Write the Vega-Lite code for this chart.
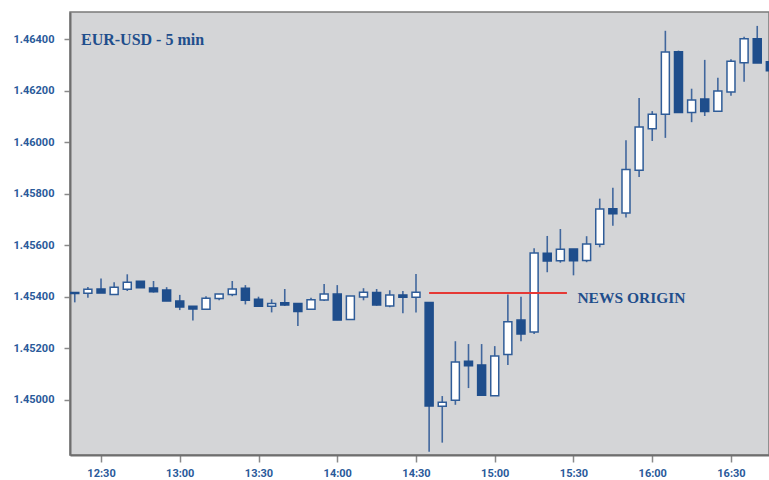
{
  "$schema": "https://vega.github.io/schema/vega-lite/v6.json",
  "width": 699,
  "height": 443,
  "autosize": {"type": "none"},
  "padding": {"left": 70, "top": 12, "right": 0, "bottom": 25},
  "background": "white",
  "datasets": {
    "candles": [
      {"t":"2010-01-04T12:20:00","o":1.45416,"h":1.45416,"l":1.45378,"c":1.45412},
      {"t":"2010-01-04T12:25:00","o":1.45413,"h":1.45438,"l":1.45396,"c":1.45429},
      {"t":"2010-01-04T12:30:00","o":1.45430,"h":1.45471,"l":1.45414,"c":1.45414},
      {"t":"2010-01-04T12:35:00","o":1.45409,"h":1.45456,"l":1.45409,"c":1.45437},
      {"t":"2010-01-04T12:40:00","o":1.45429,"h":1.45487,"l":1.45422,"c":1.45456},
      {"t":"2010-01-04T12:45:00","o":1.45460,"h":1.45460,"l":1.45435,"c":1.45435},
      {"t":"2010-01-04T12:50:00","o":1.45434,"h":1.45461,"l":1.45416,"c":1.45419},
      {"t":"2010-01-04T12:55:00","o":1.45426,"h":1.45437,"l":1.45383,"c":1.45383},
      {"t":"2010-01-04T13:00:00","o":1.45383,"h":1.45407,"l":1.45348,"c":1.45360},
      {"t":"2010-01-04T13:05:00","o":1.45363,"h":1.45363,"l":1.45308,"c":1.45352},
      {"t":"2010-01-04T13:10:00","o":1.45351,"h":1.45402,"l":1.45351,"c":1.45394},
      {"t":"2010-01-04T13:15:00","o":1.45393,"h":1.45410,"l":1.45386,"c":1.45410},
      {"t":"2010-01-04T13:20:00","o":1.45409,"h":1.45461,"l":1.45402,"c":1.45430},
      {"t":"2010-01-04T13:25:00","o":1.45433,"h":1.45445,"l":1.45370,"c":1.45386},
      {"t":"2010-01-04T13:30:00","o":1.45390,"h":1.45400,"l":1.45363,"c":1.45363},
      {"t":"2010-01-04T13:35:00","o":1.45363,"h":1.45390,"l":1.45339,"c":1.45374},
      {"t":"2010-01-04T13:40:00","o":1.45376,"h":1.45430,"l":1.45364,"c":1.45368},
      {"t":"2010-01-04T13:45:00","o":1.45374,"h":1.45374,"l":1.45286,"c":1.45342},
      {"t":"2010-01-04T13:50:00","o":1.45351,"h":1.45396,"l":1.45348,"c":1.45388},
      {"t":"2010-01-04T13:55:00","o":1.45387,"h":1.45449,"l":1.45383,"c":1.45410},
      {"t":"2010-01-04T14:00:00","o":1.45410,"h":1.45445,"l":1.45309,"c":1.45309},
      {"t":"2010-01-04T14:05:00","o":1.45311,"h":1.45403,"l":1.45311,"c":1.45403},
      {"t":"2010-01-04T14:10:00","o":1.45399,"h":1.45433,"l":1.45386,"c":1.45417},
      {"t":"2010-01-04T14:15:00","o":1.45416,"h":1.45430,"l":1.45365,"c":1.45368},
      {"t":"2010-01-04T14:20:00","o":1.45364,"h":1.45425,"l":1.45359,"c":1.45407},
      {"t":"2010-01-04T14:25:00","o":1.45407,"h":1.45422,"l":1.45336,"c":1.45398},
      {"t":"2010-01-04T14:30:00","o":1.45398,"h":1.45488,"l":1.45339,"c":1.45417},
      {"t":"2010-01-04T14:35:00","o":1.45377,"h":1.45378,"l":1.44798,"c":1.44975},
      {"t":"2010-01-04T14:40:00","o":1.44974,"h":1.45014,"l":1.44833,"c":1.44990},
      {"t":"2010-01-04T14:45:00","o":1.44998,"h":1.45227,"l":1.44980,"c":1.45146},
      {"t":"2010-01-04T14:50:00","o":1.45149,"h":1.45216,"l":1.45045,"c":1.45132},
      {"t":"2010-01-04T14:55:00","o":1.45135,"h":1.45216,"l":1.45017,"c":1.45017},
      {"t":"2010-01-04T15:00:00","o":1.45015,"h":1.45208,"l":1.45015,"c":1.45170},
      {"t":"2010-01-04T15:05:00","o":1.45175,"h":1.45409,"l":1.45135,"c":1.45303},
      {"t":"2010-01-04T15:10:00","o":1.45309,"h":1.45400,"l":1.45227,"c":1.45255},
      {"t":"2010-01-04T15:15:00","o":1.45263,"h":1.45588,"l":1.45255,"c":1.45570},
      {"t":"2010-01-04T15:20:00","o":1.45569,"h":1.45636,"l":1.45495,"c":1.45539},
      {"t":"2010-01-04T15:25:00","o":1.45540,"h":1.45663,"l":1.45532,"c":1.45584},
      {"t":"2010-01-04T15:30:00","o":1.45585,"h":1.45585,"l":1.45483,"c":1.45540},
      {"t":"2010-01-04T15:35:00","o":1.45541,"h":1.45635,"l":1.45534,"c":1.45605},
      {"t":"2010-01-04T15:40:00","o":1.45604,"h":1.45781,"l":1.45592,"c":1.45741},
      {"t":"2010-01-04T15:45:00","o":1.45742,"h":1.45823,"l":1.45676,"c":1.45722},
      {"t":"2010-01-04T15:50:00","o":1.45725,"h":1.46008,"l":1.45708,"c":1.45894},
      {"t":"2010-01-04T15:55:00","o":1.45891,"h":1.46172,"l":1.45865,"c":1.46059},
      {"t":"2010-01-04T16:00:00","o":1.46052,"h":1.46121,"l":1.46005,"c":1.46109},
      {"t":"2010-01-04T16:05:00","o":1.46109,"h":1.46433,"l":1.46017,"c":1.46351},
      {"t":"2010-01-04T16:10:00","o":1.46352,"h":1.46356,"l":1.46116,"c":1.46116},
      {"t":"2010-01-04T16:15:00","o":1.46116,"h":1.46208,"l":1.46078,"c":1.46164},
      {"t":"2010-01-04T16:20:00","o":1.46168,"h":1.46320,"l":1.46102,"c":1.46119},
      {"t":"2010-01-04T16:25:00","o":1.46120,"h":1.46251,"l":1.46120,"c":1.46199},
      {"t":"2010-01-04T16:30:00","o":1.46195,"h":1.46322,"l":1.46181,"c":1.46315},
      {"t":"2010-01-04T16:35:00","o":1.46309,"h":1.46410,"l":1.46235,"c":1.46402},
      {"t":"2010-01-04T16:40:00","o":1.46402,"h":1.46452,"l":1.46308,"c":1.46308},
      {"t":"2010-01-04T16:45:00","o":1.46313,"h":1.46313,"l":1.46278,"c":1.46278}
    ],
    "news": [
      {"t1":"2010-01-04T14:35:00","t2":"2010-01-04T15:27:30","p":1.45414}
    ],
    "title": [
      {"label":"EUR-USD - 5 min","t":"2010-01-04T12:22:22","p":1.46378}
    ],
    "newslabel": [
      {"label":"NEWS ORIGIN","t":"2010-01-04T15:31:29","p":1.45377}
    ]
  },
  "layer": [
    {
      "data": {"name": "candles"},
      "mark": {"type": "rule", "stroke": "#41679d", "strokeWidth": 1.6, "clip": true},
      "encoding": {
        "x": {
          "field": "t", "type": "temporal",
          "scale": {"padding": 0, "domain": [
            {"year": 2010, "month": 1, "date": 4, "hours": 12, "minutes": 18, "seconds": 11},
            {"year": 2010, "month": 1, "date": 4, "hours": 16, "minutes": 44, "seconds": 29}
          ]},
          "axis": {
            "title": null, "format": "%H:%M",
            "values": [
              {"year": 2010, "month": 1, "date": 4, "hours": 12, "minutes": 30},
              {"year": 2010, "month": 1, "date": 4, "hours": 13, "minutes": 0},
              {"year": 2010, "month": 1, "date": 4, "hours": 13, "minutes": 30},
              {"year": 2010, "month": 1, "date": 4, "hours": 14, "minutes": 0},
              {"year": 2010, "month": 1, "date": 4, "hours": 14, "minutes": 30},
              {"year": 2010, "month": 1, "date": 4, "hours": 15, "minutes": 0},
              {"year": 2010, "month": 1, "date": 4, "hours": 15, "minutes": 30},
              {"year": 2010, "month": 1, "date": 4, "hours": 16, "minutes": 0},
              {"year": 2010, "month": 1, "date": 4, "hours": 16, "minutes": 30}
            ],
            "grid": false,
            "domainColor": "#6e6e6e", "domainWidth": 2,
            "tickColor": "#8a8a8a", "tickSize": 7, "tickWidth": 1.5,
            "labelFont": "Roboto", "labelFontWeight": "bold", "labelFontSize": 11,
            "labelColor": "#2a5a9a", "labelPadding": 5
          }
        },
        "y": {
          "field": "l", "type": "quantitative",
          "scale": {"domain": [1.44785, 1.46506], "nice": false, "zero": false},
          "axis": {
            "title": null, "format": ".5f",
            "values": [1.450, 1.452, 1.454, 1.456, 1.458, 1.460, 1.462, 1.464],
            "grid": false,
            "domainColor": "#6e6e6e", "domainWidth": 2,
            "tickColor": "#8a8a8a", "tickSize": 6, "tickWidth": 1.5,
            "labelFont": "Roboto", "labelFontWeight": "bold", "labelFontSize": 11,
            "labelColor": "#2a5a9a", "labelPadding": 10
          }
        },
        "y2": {"field": "h"}
      }
    },
    {
      "data": {"name": "candles"},
      "mark": {"type": "bar", "size": 8, "strokeWidth": 1.5, "clip": true},
      "encoding": {
        "x": {"field": "t", "type": "temporal"},
        "y": {"field": "o", "type": "quantitative"},
        "y2": {"field": "c"},
        "fill": {"condition": {"test": "datum.c > datum.o", "value": "#ffffff"}, "value": "#1f4e8c"},
        "stroke": {"condition": {"test": "datum.c > datum.o", "value": "#2f5c98"}, "value": "#1f4e8c"}
      }
    },
    {
      "data": {"name": "news"},
      "mark": {"type": "rule", "stroke": "#e53935", "strokeWidth": 2},
      "encoding": {
        "x": {"field": "t1", "type": "temporal"},
        "x2": {"field": "t2"},
        "y": {"field": "p", "type": "quantitative"}
      }
    },
    {
      "data": {"name": "title"},
      "mark": {"type": "text", "align": "left", "baseline": "alphabetic", "font": "Liberation Serif", "fontWeight": "bold", "fontSize": 16, "color": "#1f4e8c"},
      "encoding": {
        "x": {"field": "t", "type": "temporal"},
        "y": {"field": "p", "type": "quantitative"},
        "text": {"field": "label"}
      }
    },
    {
      "data": {"name": "newslabel"},
      "mark": {"type": "text", "align": "left", "baseline": "alphabetic", "font": "Liberation Serif", "fontWeight": "bold", "fontSize": 15.5, "color": "#1f4e8c"},
      "encoding": {
        "x": {"field": "t", "type": "temporal"},
        "y": {"field": "p", "type": "quantitative"},
        "text": {"field": "label"}
      }
    }
  ],
  "config": {
    "scale": {"continuousPadding": 0},
    "view": {"fill": "#d4d5d7", "stroke": "#7a7a7a", "strokeWidth": 1.5}
  }
}
